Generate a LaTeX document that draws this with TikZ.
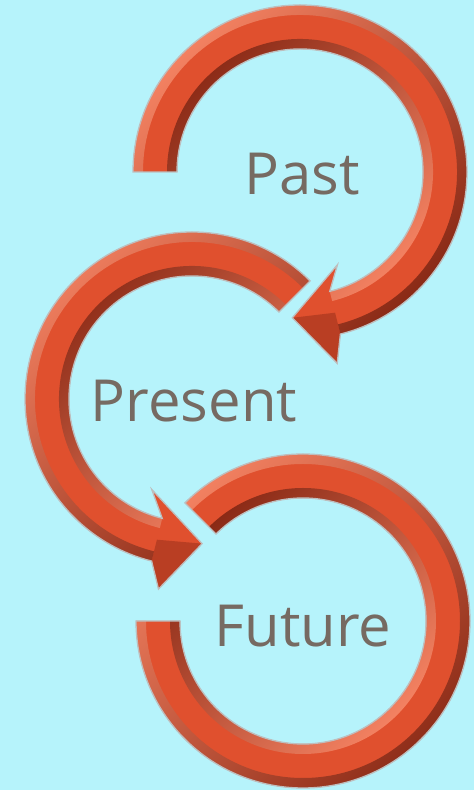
\documentclass[tikz,border=0pt]{standalone}
\usepackage{fontspec}
\setmainfont{Open Sans}
\usetikzlibrary{calc}
\definecolor{skyBack}{RGB}{182, 243, 251}
\definecolor{arrowRed}{RGB}{224, 80, 46}
\definecolor{arrowDark}{RGB}{138, 42, 22}
\definecolor{arrowLight}{RGB}{244, 130, 98}
\definecolor{arrowEdge}{RGB}{190, 190, 190}
\definecolor{inkGrey}{RGB}{118, 106, 98}

% ring band between two radii, from angle #1 to angle #2
\newcommand{\rimband}[4]{(#1:#3) arc[start angle=#1, end angle=#2, radius=#3] -- (#2:#4) arc[start angle=#2, end angle=#1, radius=#4] -- cycle}
\newcommand{\pastarrow}{(180:167) arc[start angle=180, end angle=-76, radius=167] -- (-79:195) -- (-93:146) -- (-68:100) -- (-76:123) arc[start angle=-76, end angle=180, radius=123] -- cycle}
\newcommand{\presentarrow}{(45:167) arc[start angle=45, end angle=256, radius=167] -- (260:193) -- (274:145) -- (246:99) -- (256:123) arc[start angle=256, end angle=45, radius=123] -- cycle}
\newcommand{\futurering}{\rimband{135}{-180}{167}{123}}

\tikzset{
  ringbody/.style={fill=arrowRed},
  ringedge/.style={draw=arrowEdge, line width=1.3pt, line join=miter},
  outerrim/.style={top color=arrowLight, bottom color=arrowDark, shading angle=45},
  innerrim/.style={top color=arrowDark, bottom color=arrowLight, shading angle=45},
  headfacet/.style={fill=arrowDark, fill opacity=0.45},
  timelabel/.style={text=inkGrey, font=\fontsize{58pt}{70pt}\selectfont, anchor=base, inner sep=0pt}
}

\begin{document}
\begin{tikzpicture}[x=1pt, y=1pt]
  \fill[skyBack] (0,0) rectangle (474,790);
  \useasboundingbox (0,0) rectangle (474,790);

  % past
  \begin{scope}[shift={(300,618)}]
    \fill[ringbody] \pastarrow;
    \shade[outerrim] \rimband{180}{-76}{167}{157};
    \shade[innerrim] \rimband{180}{-76}{123}{133};
    \fill[headfacet] (-93:146) -- (-79:195) -- (-76:167) -- (-76:145) -- cycle;
    \draw[ringedge] \pastarrow;
  \end{scope}

  % present
  \begin{scope}[shift={(192,391)}]
    \fill[ringbody] \presentarrow;
    \shade[outerrim] \rimband{45}{256}{167}{157};
    \shade[innerrim] \rimband{45}{256}{123}{133};
    \fill[headfacet] (274:145) -- (260:193) -- (256:167) -- (256:145) -- cycle;
    \draw[ringedge] \presentarrow;
  \end{scope}

  % future
  \begin{scope}[shift={(303,169)}]
    \fill[ringbody] \futurering;
    \shade[outerrim] \rimband{135}{-180}{167}{157};
    \shade[innerrim] \rimband{135}{-180}{123}{133};
    \draw[ringedge] \futurering;
  \end{scope}

  \node[timelabel] (past) at (302,595) {Past};
  \node[timelabel] (present) at (194,368) {Present};
  \node[timelabel] (future) at (303,143) {Future};
\end{tikzpicture}
\end{document}
